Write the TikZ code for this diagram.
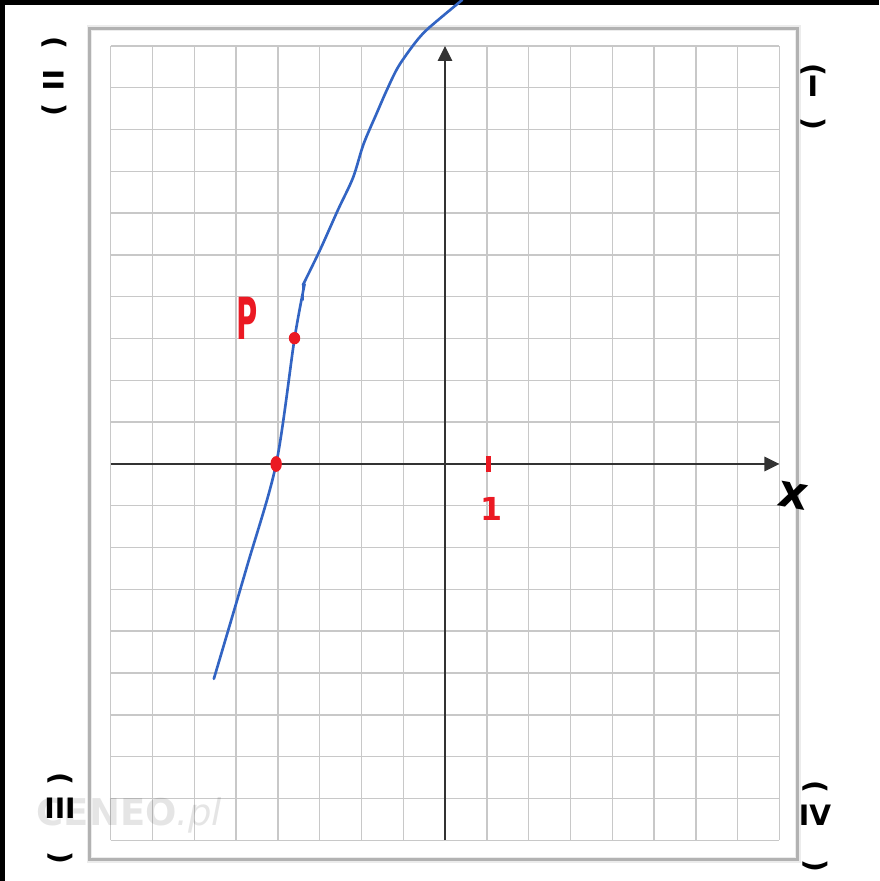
\documentclass[tikz,border=0pt]{standalone}
\usepackage{fontspec}
\setmainfont{DejaVu Sans}
\usetikzlibrary{arrows.meta,shapes.geometric}
\definecolor{penblue}{RGB}{50,100,195}
\definecolor{penred}{RGB}{235,25,35}
\definecolor{gridgray}{RGB}{200,200,200}
\newcommand{\quadlabel}[2][4pt]{\rotatebox{-90}{(}\\[#1]#2\\[#1]\rotatebox{-90}{)}}
\tikzset{
      gridline/.style={
        draw=gridgray,
        line width=0.8pt
      },
      axisline/.style={
        draw=black!80,
        line width=1.6pt,
        -{Triangle[length=8.5pt,width=8pt]}
      },
      curveline/.style={
        draw=penblue,
        line width=1.5pt,
        line cap=round,
        line join=round
      },
      reddot/.style={
        ellipse,
        fill=penred,
        inner sep=0pt
      },
      penmark/.style={
        font=\bfseries\fontsize{16}{13}\selectfont,
        inner sep=0pt,
        align=center
      },
      redmark/.style={
        text=penred,
        inner sep=0pt
      }
    }

\begin{document}
\begin{tikzpicture}[x=0.836cm,y=0.836cm]
    \useasboundingbox (-10.646,-9.976) rectangle (10.383,11.100);
    \fill[white] (-10.646,-9.976) rectangle (10.383,11.100);
    \fill[black] (-10.646,10.98) rectangle (10.383,11.100);
    \fill[black] (-10.646,-9.976) rectangle (-10.526,11.100);
    % panel and grid
    \draw[gray!15, line width=3.4pt] (-8.505,-9.47) rectangle (8.433,10.42);
    \draw[gray!60, line width=1.7pt] (-8.505,-9.47) rectangle (8.433,10.42);
    \draw[gridline, step=1] (-8,-9) grid (8,10);
    \node[text=black, text opacity=0.1, font=\bfseries\fontsize{21}{21}\selectfont, inner sep=0pt] (wm) at (-7.55,-8.40) {CENEO\textit{\mdseries.pl}};
    \coordinate (O) at (0,0);
    \draw[axisline] (-8,0) -- (8,0);
    \draw[axisline] (0,-9) -- (0,10);
    \node[font=\bfseries\fontsize{26}{26}\selectfont, inner sep=0pt, rotate=-10] (xlab) at (8.33,-0.77) {x};
    % hand drawn line
    \draw[curveline] plot[smooth, tension=0.5] coordinates {(-5.53,-5.14) (-4.74,-2.46) (-4.04,0) (-3.60,3.0) (-3.36,4.30)};
    \draw[curveline] (-3.40,4.30) -- (-3.40,3.93);
    \draw[curveline] plot[smooth, tension=0.5] coordinates {(-3.40,4.28) (-2.99,5.12) (-2.56,6.08) (-2.20,6.85) (-1.95,7.65) (-1.63,8.40) (-1.39,8.95) (-1.12,9.50) (-0.72,10.07) (-0.40,10.42) (0.41,11.10)};
    % red marks
    \node[reddot, minimum width=6.5pt, minimum height=9pt] (zero) at (-4.04,0) {};
    \node[reddot, minimum width=6.5pt, minimum height=7pt] (P) at (-3.60,3.01) {};
    \node[redmark, font=\bfseries\fontsize{33}{33}\selectfont] (Plab) at (-4.74,3.49) {\scalebox{0.5}[1]{P}};
    \draw[penred, line width=2.8pt] (1.03,0.19) -- (1.03,-0.19);
    \node[redmark, font=\bfseries\fontsize{18}{18}\selectfont] (one) at (1.12,-1.08) {1};
    % quadrants
    \node[penmark] (q2) at (-9.35,9.28) {\quadlabel[6pt]{\rotatebox{-90}{II}}};
    \node[penmark] (q1) at (8.80,8.78) {\quadlabel[-1pt]{I}};
    \node[penmark] (q3) at (-9.21,-8.49) {\quadlabel[6pt]{III}};
    \node[penmark] (q4) at (8.85,-8.66) {\quadlabel[6pt]{IV}};
\end{tikzpicture}
\end{document}
